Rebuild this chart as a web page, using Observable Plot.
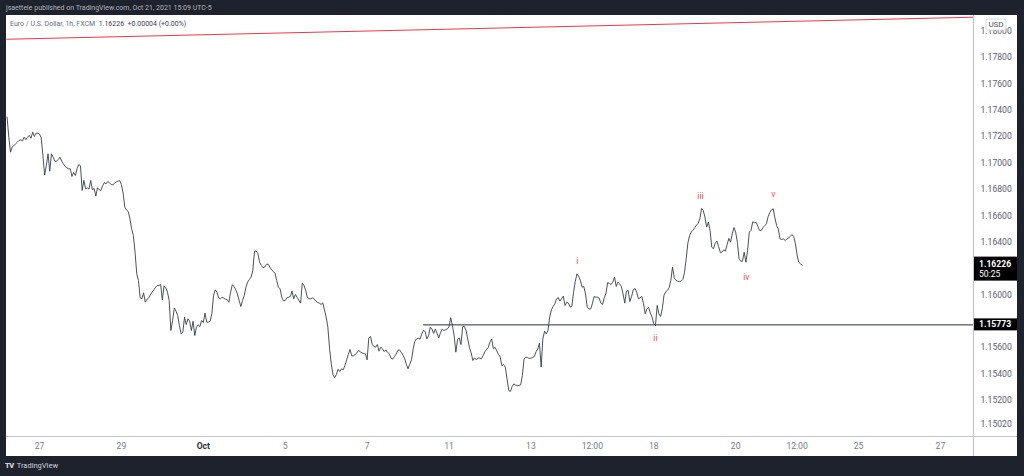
<!DOCTYPE html>
<html><head><meta charset="utf-8">
<script src="https://cdn.jsdelivr.net/npm/d3@7"></script>
<script src="https://cdn.jsdelivr.net/npm/@observablehq/plot@0.6"></script>
<style>
html,body{margin:0;padding:0;background:#1e222d;width:1024px;height:476px;overflow:hidden;font-family:Roboto,"Liberation Sans",sans-serif;}
#top{position:absolute;left:6px;top:4px;font-size:7px;line-height:9px;color:#b2b5be;white-space:nowrap;}
#chart{position:absolute;left:6px;top:15px;width:1011px;height:441px;background:#fff;}
#legend{position:absolute;left:10px;top:20px;font-size:7px;line-height:9px;color:#6a6d78;white-space:nowrap;}
#legend b{font-weight:normal;color:#3a3d47;}
#foot{position:absolute;left:5px;top:461px;font-size:7.5px;line-height:9px;color:#d1d4dc;white-space:nowrap;}
#foot span{font-weight:900;letter-spacing:-0.5px;margin-right:3px;}
</style></head><body>
<div id="top">jsaettele published on TradingView.com, Oct 21, 2021 15:09 UTC-5</div>
<div id="chart"></div>
<div id="legend">Euro / U.S. Dollar, 1h, FXCM&nbsp;&nbsp;<b>1.16226&nbsp;&nbsp;+0.00004 (+0.00%)</b></div>
<div id="foot"><span>TV</span>TradingView</div>
<script>
// ---- data (hourly closes, first value is 19 hours before the Sep 27 session mark) ----
const startHour = -19;
const closes = [
1.17348,1.17196,1.17082,1.17120,1.17133,1.17146,1.17158,1.17171,1.17176,1.17168,
1.17196,1.17176,1.17196,1.17209,1.17188,1.17234,1.17201,1.17226,1.17226,
1.17219,1.17191,1.17057,1.16908,1.16981,1.17070,1.16938,1.17070,1.17044,1.17012,
1.17014,1.17027,1.17044,1.17014,1.16994,1.16974,1.16964,1.16956,1.16956,1.16898,
1.16928,1.16905,1.16956,1.16989,1.16979,1.16792,1.16868,1.16804,1.16812,1.16802,
1.16868,1.16797,1.16807,1.16749,1.16812,1.16797,1.16792,1.16827,1.16852,1.16842,
1.16860,1.16850,1.16837,1.16835,1.16847,1.16857,1.16862,1.16868,1.16837,1.16772,
1.16665,1.16643,1.16632,1.16577,1.16501,1.16451,1.16324,1.16160,1.16109,1.15978,
1.15970,1.16016,1.15945,1.15968,1.15978,1.16001,1.16021,1.16039,1.16059,1.16072,
1.16072,1.16079,1.15963,1.16069,1.16054,1.16021,1.15958,1.15730,1.15806,1.15902,
1.15877,1.15844,1.15768,1.15705,1.15718,1.15831,1.15776,1.15819,1.15801,1.15730,
1.15801,1.15692,1.15756,1.15773,1.15761,1.15806,1.15791,1.15862,1.15794,1.15794,
1.15801,1.15857,1.15996,1.16039,1.16021,1.15978,1.15970,1.15983,1.15976,1.15968,
1.15963,1.15945,1.16021,1.16077,1.16064,1.16039,1.16008,1.15958,1.15912,1.15958,
1.15996,1.16059,1.16097,1.16117,1.16135,1.16185,1.16329,1.16334,1.16312,1.16248,
1.16223,1.16206,1.16211,1.16233,1.16233,1.16211,1.16190,1.16178,1.16165,1.16110,
1.16059,1.16046,1.15983,1.15955,1.15958,1.15978,1.15983,1.15988,1.16029,1.15971,
1.16003,1.15981,1.15958,1.15938,1.16089,1.16072,1.16034,1.15981,1.15971,1.15971,
1.15978,1.15968,1.15953,1.15943,1.15938,1.15928,1.15940,1.15887,1.15832,1.15756,
1.15592,1.15478,1.15394,1.15374,1.15397,1.15437,1.15420,1.15440,1.15432,1.15465,
1.15508,1.15549,1.15587,1.15538,1.15538,1.15549,1.15561,1.15579,1.15569,1.15561,
1.15556,1.15554,1.15508,1.15675,1.15685,1.15624,1.15609,1.15604,1.15624,1.15574,
1.15604,1.15592,1.15571,1.15584,1.15564,1.15554,1.15521,1.15513,1.15533,1.15551,
1.15579,1.15584,1.15566,1.15544,1.15518,1.15473,1.15440,1.15475,1.15508,1.15592,
1.15650,1.15667,1.15672,1.15665,1.15703,1.15731,1.15723,1.15667,1.15690,1.15756,
1.15741,1.15708,1.15741,1.15710,1.15675,1.15713,1.15741,1.15731,1.15736,1.15743,
1.15758,1.15827,1.15768,1.15693,1.15566,1.15660,1.15675,1.15624,1.15761,1.15761,
1.15731,1.15665,1.15599,1.15559,1.15503,1.15523,1.15508,1.15523,1.15521,1.15516,
1.15541,1.15569,1.15587,1.15602,1.15642,1.15667,1.15592,1.15602,1.15576,1.15549,
1.15531,1.15463,1.15473,1.15453,1.15364,1.15276,1.15268,1.15306,1.15326,1.15316,
1.15314,1.15314,1.15319,1.15389,1.15516,1.15528,1.15526,1.15518,1.15521,1.15526,
1.15533,1.15569,1.15589,1.15634,1.15453,1.15667,1.15725,1.15705,1.15730,1.15832,
1.15887,1.15912,1.15933,1.15968,1.15981,1.15953,1.15971,1.15991,1.15920,1.15945,
1.15938,1.15907,1.15915,1.16021,1.16102,1.16160,1.16140,1.16110,1.16059,1.16064,
1.16008,1.15907,1.15895,1.15893,1.15933,1.15988,1.15983,1.15983,1.15976,1.15938,
1.15928,1.15978,1.16013,1.16094,1.16087,1.16079,1.16097,1.16135,1.16064,1.16097,
1.16084,1.16064,1.16008,1.15938,1.16029,1.16034,1.15950,1.15988,1.16039,1.16049,
1.16021,1.15971,1.15978,1.15988,1.15933,1.15857,1.15895,1.15905,1.15862,1.15832,
1.15781,1.15768,1.15920,1.15857,1.15837,1.15895,1.15998,1.16024,1.16034,1.16054,
1.16110,1.16211,1.16130,1.16110,1.16104,1.16102,1.16104,1.16117,1.16168,1.16274,
1.16393,1.16451,1.16478,1.16491,1.16509,1.16529,1.16542,1.16577,1.16655,1.16640,
1.16590,1.16514,1.16552,1.16489,1.16362,1.16350,1.16390,1.16408,1.16367,1.16322,
1.16324,1.16342,1.16332,1.16382,1.16428,1.16400,1.16463,1.16511,1.16476,1.16400,
1.16274,1.16256,1.16256,1.16324,1.16248,1.16337,1.16476,1.16489,1.16554,1.16547,
1.16549,1.16519,1.16489,1.16489,1.16511,1.16524,1.16539,1.16592,1.16625,1.16645,
1.16653,1.16585,1.16526,1.16499,1.16425,1.16420,1.16425,1.16413,1.16423,1.16433,
1.16443,1.16458,1.16443,1.16388,1.16304,1.16248,1.16236,1.16226
];
// trading-day index: 0 = Sep 27, weekends skipped
const xTickDays   = [0, 2, 4, 6, 8, 10, 12, 13.5, 15, 17, 18.5, 20, 22];
const xTickLabels = ["27","29","Oct","5","7","11","13","12:00","18","20","12:00","25","27"];
// 1.162 and 1.158 are hidden behind the price badges in the original
const yTicks = [1.1502,1.152,1.154,1.156,1.160,1.164,1.166,1.168,1.170,1.172,1.174,1.176,1.178,1.180];
const waveLabels = ["i","ii","iii","iv","v"];
const waveDays   = [13.13, 15.04, 16.14, 17.26, 17.92];
const wavePrices = [1.16254, 1.15668, 1.16746, 1.16135, 1.16762];
const trendDays   = [-0.8, 22.8];
const trendPrices = [1.17938, 1.18105];
const levelPrice = 1.15773;
const levelStartDay = 9.38;
const lastPrice = 1.16226;
const countdown = "50:25";
const xDomain = [-0.806, 22.808];
const yDomain = [1.14927, 1.18118];

// ---- build ----
const series = closes.map((c, i) => ({day: (startHour + i) / 24, price: c}));
const trend = trendDays.map((d, i) => ({day: d, price: trendPrices[i]}));
const waves = waveLabels.map((l, i) => ({label: l, day: waveDays[i], price: wavePrices[i]}));
const tickLabel = new Map(xTickDays.map((d, i) => [d, xTickLabels[i]]));
const font = "Roboto, 'Liberation Sans', sans-serif";

const chart = Plot.plot({
  width: 1011, height: 441,
  marginLeft: 0, marginRight: 44, marginTop: 0, marginBottom: 20,
  style: {background: "transparent", fontFamily: font, overflow: "visible"},
  x: {type: "linear", domain: xDomain},
  y: {domain: yDomain},
  marks: [
    Plot.axisY({anchor: "right", ticks: yTicks, tickFormat: d3.format(".5f"), tickSize: 0, tickPadding: 7,
      fontSize: 8.6, fill: "#5d606b", label: null}),
    Plot.axisX({ticks: xTickDays.filter(d => tickLabel.get(d) !== "Oct"), tickFormat: d => tickLabel.get(d),
      tickSize: 0, tickPadding: 6, fontSize: 8.6, fill: "#787b86", label: null}),
    Plot.axisX({ticks: xTickDays.filter(d => tickLabel.get(d) === "Oct"), tickFormat: d => tickLabel.get(d),
      tickSize: 0, tickPadding: 6, fontSize: 8.6, fontWeight: "bold", fill: "#2a2e39", label: null}),
    Plot.line(trend, {x: "day", y: "price", stroke: "#f23645", strokeWidth: 1, clip: true}),
    Plot.ruleY([levelPrice], {x1: levelStartDay, x2: xDomain[1], stroke: "#2a2e39", strokeWidth: 1}),
    Plot.line(series, {x: "day", y: "price", stroke: "#3a3d45", strokeWidth: 0.9, clip: true}),
    Plot.text(waves, {x: "day", y: "price", text: "label", fill: "#ef4a50", fontSize: 8.5})
  ]
});
document.getElementById("chart").appendChild(chart);

// ---- TradingView chrome drawn with the chart's own scales ----
const svg = d3.select(chart);
const ys = chart.scale("y");
const xs = chart.scale("x");
const right = xs.range[1];
const W = 1011, H = 441, bottom = ys.range[0];
// separators
svg.append("line").attr("x1", right + 0.5).attr("x2", right + 0.5).attr("y1", 0).attr("y2", H)
  .attr("stroke", "#c3c5cb").attr("stroke-width", 1.2);
svg.append("line").attr("x1", 0).attr("x2", W).attr("y1", bottom + 0.5).attr("y2", bottom + 0.5)
  .attr("stroke", "#c3c5cb").attr("stroke-width", 1.2);
// USD badge
const g = svg.append("g").attr("font-family", font).attr("text-anchor", "start");
g.append("rect").attr("x", right + 13).attr("y", 4).attr("width", 20).attr("height", 11).attr("rx", 2)
  .attr("fill", "#fff").attr("stroke", "#d6d8de");
g.append("text").attr("x", right + 23).attr("y", 9.8).attr("text-anchor", "middle").attr("dominant-baseline", "central")
  .attr("font-size", 8).attr("fill", "#4c525e").text("USD");
// level label
const yl = ys.apply(levelPrice);
g.append("rect").attr("x", right + 1).attr("y", yl - 6).attr("width", W - right - 1).attr("height", 12).attr("fill", "#000");
g.append("text").attr("x", right + 6).attr("y", yl).attr("dominant-baseline", "central")
  .attr("font-size", 8.6).attr("font-weight", "bold").attr("fill", "#fff").text(levelPrice.toFixed(5));
// last price label
const yp = ys.apply(lastPrice);
g.append("rect").attr("x", right + 1).attr("y", yp - 8).attr("width", W - right - 1).attr("height", 24).attr("fill", "#000");
g.append("text").attr("x", right + 6).attr("y", yp - 1).attr("dominant-baseline", "central")
  .attr("font-size", 8.6).attr("font-weight", "bold").attr("fill", "#fff").text(lastPrice.toFixed(5));
g.append("text").attr("x", right + 6).attr("y", yp + 9).attr("dominant-baseline", "central")
  .attr("font-size", 8.6).attr("fill", "#fff").text(countdown);
</script>
</body></html>
